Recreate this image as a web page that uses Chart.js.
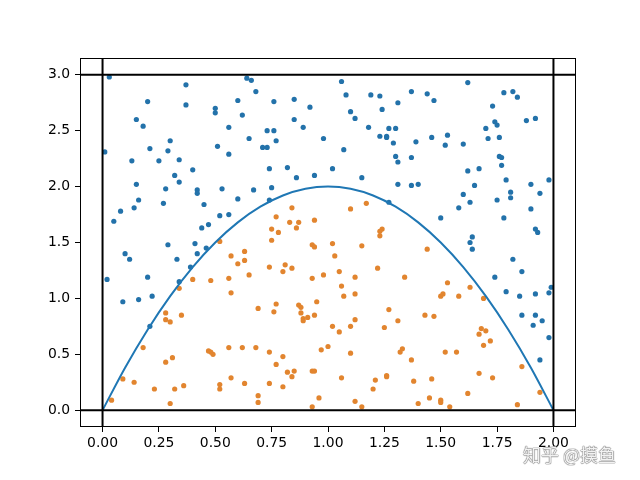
<!DOCTYPE html>
<html>
<head>
<meta charset="utf-8">
<script src="https://cdn.jsdelivr.net/npm/chart.js@4/dist/chart.umd.min.js"></script>
<style>
  body { margin: 0; background: #fff; }
  #wrap { position: relative; width: 640px; height: 480px; }
  #mark {
    position: absolute; left: 523px; top: 441px;
    font-family: "Noto Sans CJK SC", sans-serif; font-size: 18px;
    color: #f2f2f2; text-shadow: 0 0 1px #666, 0 0 1px #666, 0 0 1px #666;
  }
</style>
</head>
<body>
<div id="wrap">
  <canvas id="myChart" width="640" height="480"></canvas>
  <div id="mark">知乎 @摸鱼</div>
</div>
<script>
// points above the curve
const blueX = [0.03, 0.37, 0.64, 0.66, 0.20, 0.37, 0.50, 0.50, 0.60, 0.62, 0.15, 0.18, 0.56, 0.30, 0.65, 0.01, 0.21, 0.29, 0.51, 0.56,
  0.68, 1.06, 1.08, 1.19, 1.23, 0.76, 0.85, 0.92, 1.31, 1.24, 1.10, 1.12, 0.85, 0.89, 1.18, 0.73, 0.76, 1.27, 1.30, 0.77,
  0.98, 1.23, 1.26, 1.26, 1.29, 0.71, 0.73, 1.07, 1.30,
  1.62, 1.37, 1.44, 1.47, 1.78, 1.82, 1.84, 1.73, 1.74, 1.75, 1.88, 1.92, 1.70, 1.53, 1.46, 1.39, 1.52, 1.60, 1.71, 1.76,
  1.37, 1.76, 1.77,
  0.13, 0.25, 0.34, 0.40, 0.32, 0.34, 0.15, 0.28, 0.42, 0.42, 0.53, 0.67, 0.16, 0.27, 0.60, 0.08, 0.14, 0.45, 0.52, 0.56,
  0.05, 0.44, 0.47,
  1.31, 0.74, 0.82, 1.02, 0.86, 0.94, 1.15, 1.31, 0.75, 0.74, 1.27,
  1.62, 1.67, 1.77, 1.37, 1.40, 1.79, 1.90, 1.98, 1.65, 1.60, 1.63, 1.75, 1.81, 1.81, 1.94, 1.58, 1.90, 1.50, 1.78, 1.92,
  1.93, 1.64,
  0.29, 0.41, 0.46, 0.10, 0.12, 0.33, 0.42, 0.39, 0.02, 0.20, 0.34, 0.09, 0.16, 0.22, 0.21,
  1.63, 1.64, 1.82, 1.86, 1.74, 1.79, 1.85, 1.92, 1.98, 1.99, 1.86, 1.92, 1.95, 1.91, 1.98, 1.94];
const blueY = [2.98, 2.91, 2.97, 2.95, 2.76, 2.73, 2.70, 2.66, 2.77, 2.64, 2.60, 2.54, 2.53, 2.41, 2.43, 2.31, 2.34, 2.32, 2.36, 2.29,
  2.85, 2.94, 2.82, 2.82, 2.81, 2.76, 2.78, 2.71, 2.75, 2.69, 2.67, 2.61, 2.60, 2.53, 2.53, 2.50, 2.50, 2.52, 2.52, 2.41,
  2.43, 2.45, 2.45, 2.44, 2.39, 2.35, 2.35, 2.33, 2.27,
  2.93, 2.85, 2.83, 2.77, 2.84, 2.85, 2.80, 2.72, 2.58, 2.55, 2.59, 2.61, 2.52, 2.46, 2.44, 2.40, 2.37, 2.38, 2.43, 2.44,
  2.26, 2.27, 2.26,
  2.23, 2.23, 2.24, 2.15, 2.10, 2.04, 2.02, 1.98, 1.97, 1.94, 1.98, 1.97, 1.88, 1.85, 1.89, 1.78, 1.81, 1.84, 1.74, 1.75,
  1.69, 1.63, 1.66,
  2.22, 2.16, 2.17, 2.16, 2.08, 2.10, 2.08, 2.02, 1.99, 1.88, 1.86,
  2.14, 2.16, 2.19, 2.01, 2.02, 2.06, 2.02, 2.06, 2.01, 1.93, 1.86, 1.88, 1.95, 1.90, 1.94, 1.81, 1.80, 1.72, 1.72, 1.62,
  1.59, 1.55,
  1.48, 1.49, 1.45, 1.40, 1.35, 1.35, 1.40, 1.28, 1.17, 1.19, 1.15, 0.97, 0.99, 1.02, 0.75,
  1.50, 1.44, 1.35, 1.24, 1.19, 1.06, 1.02, 1.04, 1.05, 1.10, 0.85, 0.85, 0.80, 0.76, 0.65, 0.45];

// points under the curve
const orangeX = [0.52, 0.84, 1.10, 1.17, 0.77, 0.94, 0.83, 0.87, 0.86, 0.75, 0.78, 1.24, 1.23, 1.23, 0.75,
  0.57, 0.63, 0.60, 0.63, 0.65, 0.40, 0.48, 0.56, 0.57, 0.34, 0.28, 0.28, 0.30, 0.35,
  0.93, 0.94, 1.02, 1.15, 1.03, 0.74, 0.81, 0.80, 0.84, 1.22, 1.05, 0.93, 0.98, 1.12, 1.34, 1.06, 1.07, 1.12, 0.95, 0.77,
  0.69, 0.76, 0.87, 0.88, 0.88, 0.89, 0.89, 0.91, 0.94, 1.27, 1.31, 1.12, 1.02, 1.05, 1.10, 1.25,
  1.44, 1.53, 1.63, 1.50, 1.51, 1.58, 1.69, 1.43, 1.47, 1.68, 1.70,
  0.18, 0.09, 0.14, 0.04, 0.28, 0.31, 0.23, 0.32, 0.36, 0.30, 0.47, 0.48, 0.49, 0.56, 0.62, 0.57, 0.52, 0.52, 0.63,
  0.68, 0.74, 0.80, 0.77, 0.82, 0.85, 0.84, 0.93, 0.94, 0.97, 1.00, 1.10, 1.06, 0.74, 0.80, 0.69, 0.69, 0.96, 0.93, 1.12,
  1.15, 1.20, 1.21, 1.26, 1.26, 1.32, 1.33,
  1.67, 1.72, 1.69, 1.37, 1.52, 1.57, 1.86, 1.67, 1.73, 1.46, 1.38, 1.62, 1.45, 1.50, 1.50, 1.40, 1.54, 1.84, 1.94];
const orangeY = [1.51, 1.81, 1.80, 1.85, 1.73, 1.70, 1.68, 1.68, 1.63, 1.62, 1.59, 1.62, 1.60, 1.56, 1.52,
  1.38, 1.42, 1.31, 1.34, 1.21, 1.17, 1.16, 1.18, 1.05, 1.09, 0.87, 0.81, 0.79, 0.85,
  1.48, 1.46, 1.49, 1.47, 1.38, 1.28, 1.30, 1.24, 1.27, 1.27, 1.24, 1.18, 1.21, 1.19, 1.19, 1.11, 1.02, 1.04, 0.97, 0.95,
  0.91, 0.88, 0.94, 0.92, 0.87, 0.82, 0.80, 0.83, 0.85, 0.90, 0.80, 0.81, 0.75, 0.70, 0.75, 0.74,
  1.44, 1.14, 1.10, 1.02, 1.04, 1.02, 1.00, 0.85, 0.84, 0.73, 0.71,
  0.56, 0.28, 0.25, 0.09, 0.43, 0.47, 0.19, 0.19, 0.22, 0.06, 0.53, 0.52, 0.50, 0.56, 0.56, 0.29, 0.23, 0.19, 0.24,
  0.56, 0.52, 0.48, 0.41, 0.34, 0.35, 0.30, 0.35, 0.35, 0.54, 0.57, 0.51, 0.29, 0.24, 0.21, 0.13, 0.07, 0.11, 0.03, 0.08,
  0.03, 0.19, 0.27, 0.30, 0.31, 0.52, 0.55,
  0.68, 0.62, 0.58, 0.45, 0.52, 0.52, 0.39, 0.33, 0.29, 0.28, 0.26, 0.15, 0.11, 0.09, 0.07, 0.06, 0.03, 0.05, 0.16];

// the arch
const curveX = [0, 0.1, 0.2, 0.3, 0.4, 0.5, 0.6, 0.7, 0.8, 0.9, 1.0, 1.1, 1.2, 1.3, 1.4, 1.5, 1.6, 1.7, 1.8, 1.9, 2.0];
const curveY = [0, 0.38, 0.72, 1.02, 1.28, 1.50, 1.68, 1.82, 1.92, 1.98, 2.00, 1.98, 1.92, 1.82, 1.68, 1.50, 1.28, 1.02, 0.72, 0.38, 0];

const xTicks = [0, 0.25, 0.5, 0.75, 1.0, 1.25, 1.5, 1.75, 2.0];
const yTicks = [0, 0.5, 1.0, 1.5, 2.0, 2.5, 3.0];

const xMin = -0.1, xMax = 2.1, yMin = -0.15, yMax = 3.15;

const toPoints = (xs, ys) => xs.map((x, i) => { return { x: x, y: ys[i] } });

const tickFont = { family: 'DejaVu Sans', size: 13.9 };

const frame = {
  id: 'frame',
  afterDraw(chart) {
    const a = chart.chartArea;
    const ctx = chart.ctx;
    ctx.save();
    ctx.strokeStyle = '#000';
    ctx.lineWidth = 1;
    ctx.strokeRect(a.left + 0.5, a.top + 0.5, a.right - a.left - 1, a.bottom - a.top - 1);
    ctx.restore();
  }
};

new Chart('myChart', {
  type: 'scatter',
  data: {
    datasets: [
      { data: [{ x: 0, y: yMin }, { x: 0, y: yMax }], showLine: true, borderColor: '#000', borderWidth: 2, pointRadius: 0, order: 0 },
      { data: [{ x: 2, y: yMin }, { x: 2, y: yMax }], showLine: true, borderColor: '#000', borderWidth: 2, pointRadius: 0, order: 0 },
      { data: [{ x: xMin, y: 0 }, { x: xMax, y: 0 }], showLine: true, borderColor: '#000', borderWidth: 2, pointRadius: 0, order: 0 },
      { data: [{ x: xMin, y: 3 }, { x: xMax, y: 3 }], showLine: true, borderColor: '#000', borderWidth: 2, pointRadius: 0, order: 0 },
      { data: toPoints(curveX, curveY), showLine: true, borderColor: '#1f77b4', borderWidth: 2,
        pointRadius: 0, cubicInterpolationMode: 'monotone', order: 1 },
      { data: toPoints(orangeX, orangeY), backgroundColor: '#e2852f', pointRadius: 2.6, borderWidth: 0, order: 2 },
      { data: toPoints(blueX, blueY), backgroundColor: '#2372aa', pointRadius: 2.6, borderWidth: 0, order: 3 }
    ]
  },
  options: {
    responsive: false,
    animation: false,
    events: [],
    layout: { padding: { left: 20, right: 64, top: 58, bottom: 20 } },
    plugins: { legend: { display: false }, tooltip: { enabled: false } },
    scales: {
      x: {
        type: 'linear', min: xMin, max: xMax,
        afterBuildTicks: (axis) => { axis.ticks = xTicks.map(v => ({ value: v })) },
        afterFit: (axis) => { axis.height = 33 },
        grid: { drawOnChartArea: false, drawTicks: true, tickLength: 5, color: '#000' },
        border: { display: false },
        ticks: { color: '#000', font: tickFont, padding: 3, maxRotation: 0, callback: (v) => Number(v).toFixed(2) }
      },
      y: {
        type: 'linear', min: yMin, max: yMax,
        afterBuildTicks: (axis) => { axis.ticks = yTicks.map(v => ({ value: v })) },
        afterFit: (axis) => { axis.width = 60 },
        grid: { drawOnChartArea: false, drawTicks: true, tickLength: 5, color: '#000' },
        border: { display: false },
        ticks: { color: '#000', font: tickFont, padding: 5, callback: (v) => Number(v).toFixed(1) }
      }
    }
  },
  plugins: [frame]
});
</script>
</body>
</html>
